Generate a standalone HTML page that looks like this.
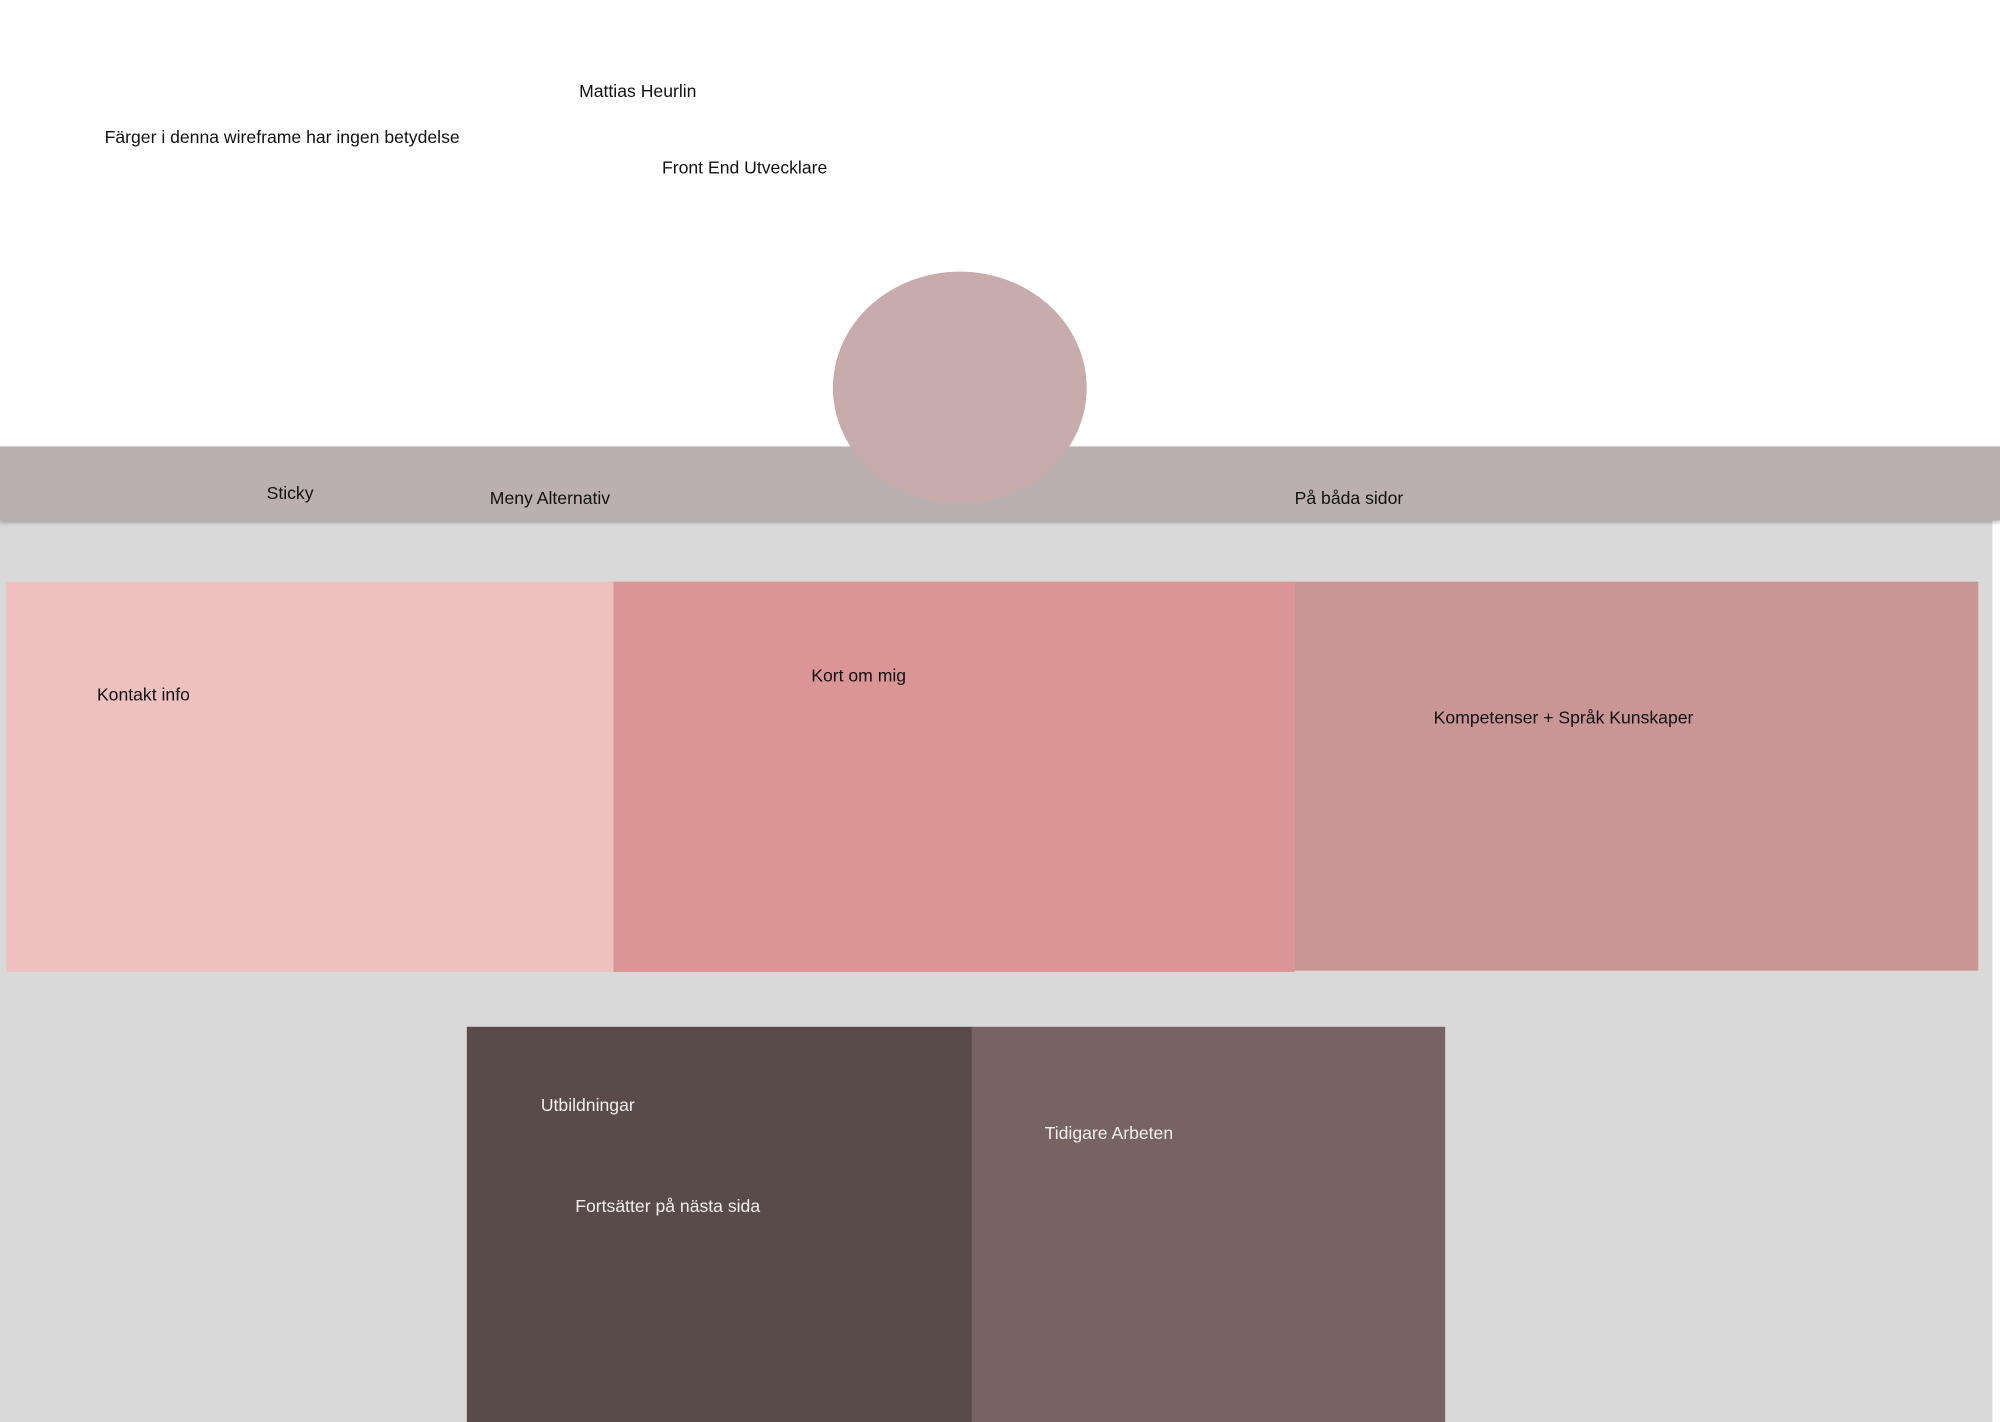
<!DOCTYPE html>
<html><head><meta charset="utf-8"><style>
html,body{margin:0;padding:0;width:2000px;height:1422px;overflow:hidden;background:#fff;}
#wrap{position:absolute;left:0;top:0;width:1568px;height:1115px;transform:scale(1.27551);transform-origin:0 0;font-family:"Liberation Sans",sans-serif;font-size:13.8px;color:#111;}
.a{position:absolute;}
.t{position:absolute;white-space:nowrap;line-height:1;transform:translateY(-50%);}
.w{color:#f4eeee;}
</style></head><body>
<div id="wrap">
<div class="a" style="left:0;top:408px;width:1562px;height:707px;background:#d9d9d9"></div>
<div class="t" style="left:454px;top:72px">Mattias Heurlin</div>
<div class="t" style="left:82px;top:108px">Färger i denna wireframe har ingen betydelse</div>
<div class="t" style="left:519px;top:132px">Front End Utvecklare</div>
<div class="a" style="left:0;top:350px;width:1568px;height:58px;background:#bab0af;box-shadow:0 2px 3px rgba(0,0,0,0.25)"></div>
<div class="t" style="left:209px;top:387px">Sticky</div>
<div class="t" style="left:384px;top:391px">Meny Alternativ</div>
<div class="t" style="left:1015px;top:391px">På båda sidor</div>
<div class="a" style="left:653px;top:213px;width:199px;height:182px;border-radius:50%;background:#c8acac"></div>
<div class="a" style="left:5px;top:456px;width:476px;height:306px;background:#efc0c0"></div>
<div class="t" style="left:76px;top:545px">Kontakt info</div>
<div class="a" style="left:481px;top:456px;width:534px;height:306px;background:#da9594"></div>
<div class="t" style="left:636px;top:530px">Kort om mig</div>
<div class="a" style="left:1015px;top:456px;width:536px;height:305px;background:#c99595"></div>
<div class="t" style="left:1124px;top:563px">Kompetenser + Språk Kunskaper</div>
<div class="a" style="left:366px;top:805px;width:396px;height:310px;background:#594b4a"></div>
<div class="t w" style="left:424px;top:867px">Utbildningar</div>
<div class="t w" style="left:451px;top:946px">Fortsätter på nästa sida</div>
<div class="a" style="left:762px;top:805px;width:371px;height:310px;background:#766362"></div>
<div class="t w" style="left:819px;top:889px">Tidigare Arbeten</div>
</div>
</body></html>
